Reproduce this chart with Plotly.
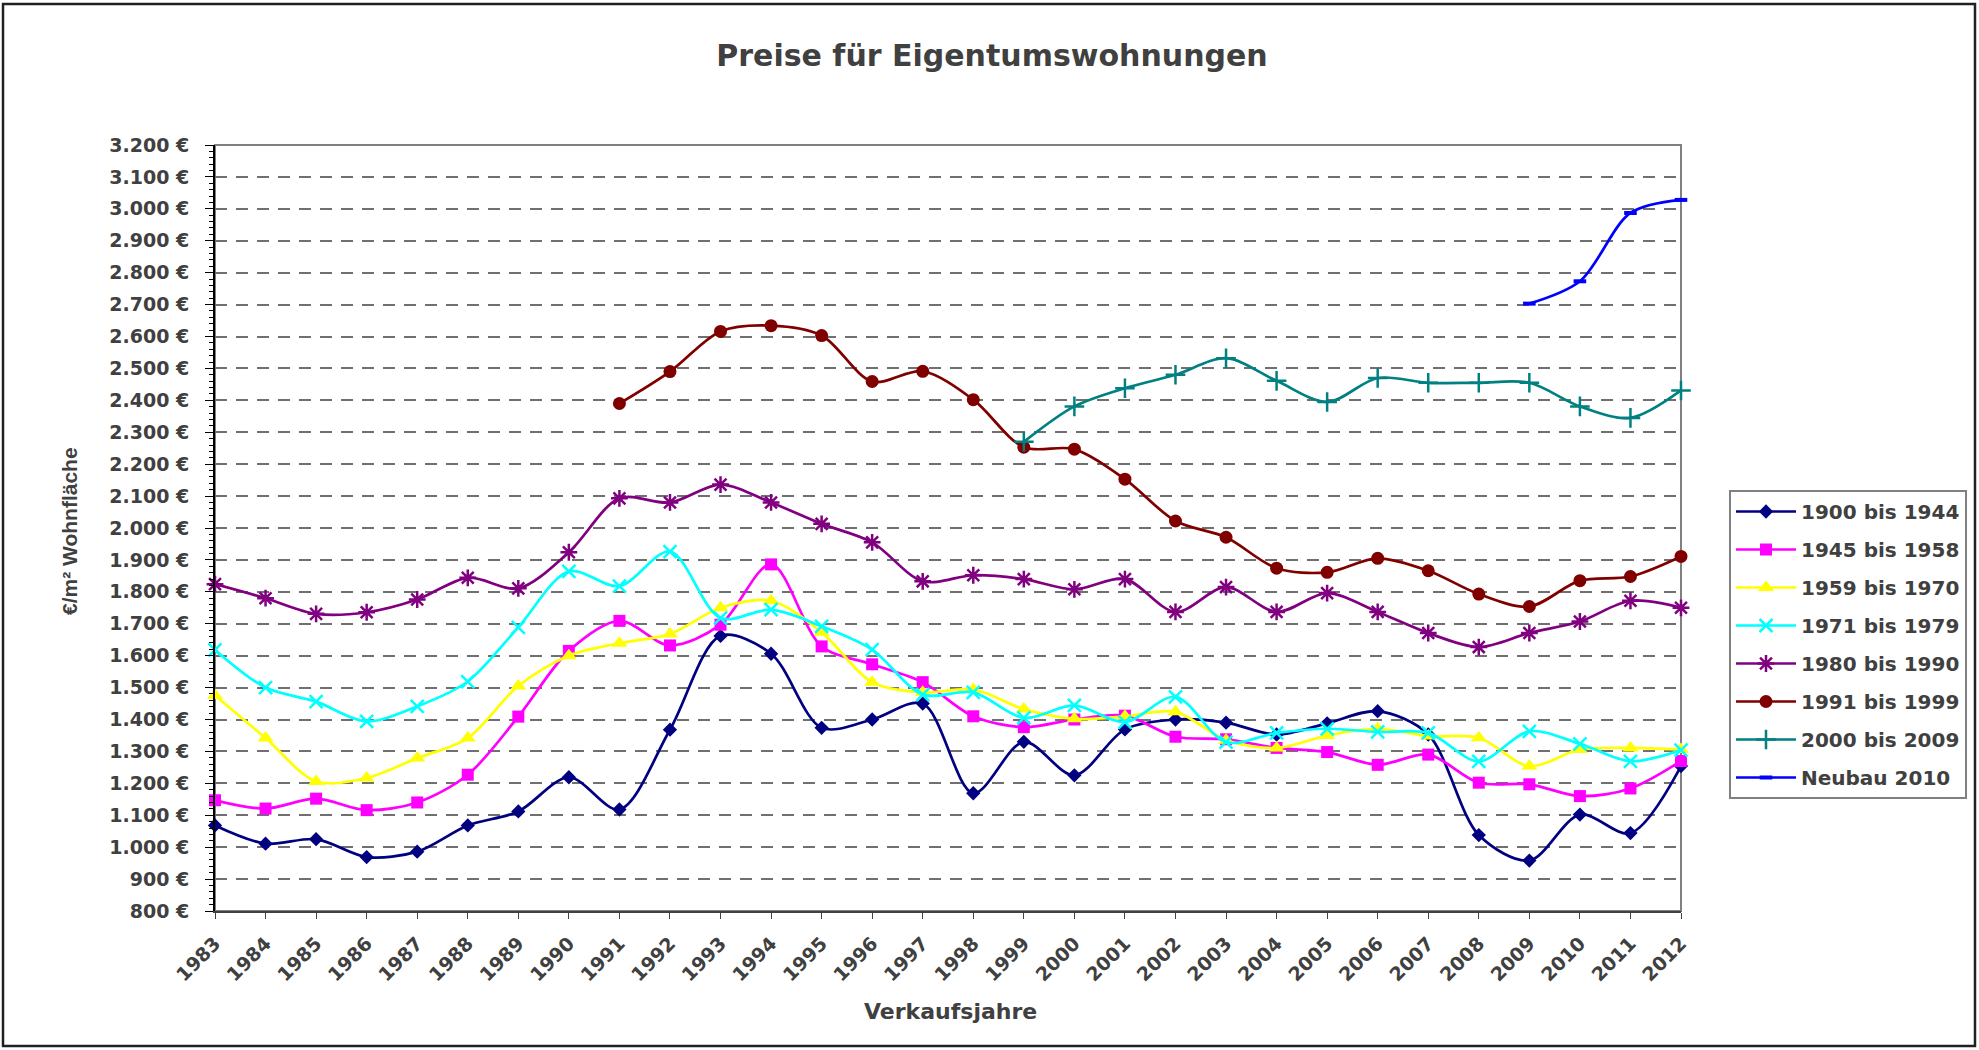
import plotly.graph_objects as go

# ---------------- data ----------------
years = list(range(1983, 2013))

s_1900_1944 = [1068, 1011, 1025, 969, 986, 1068, 1112, 1219, 1118, 1368,
               1662, 1606, 1374, 1400, 1450, 1169, 1330, 1225, 1369, 1400,
               1390, 1353, 1388, 1426, 1353, 1038, 958, 1102, 1044, 1254]
s_1945_1958 = [1147, 1121, 1152, 1116, 1140, 1227, 1409, 1615, 1709, 1632,
               1697, 1886, 1629, 1573, 1517, 1410, 1376, 1400, 1412, 1346,
               1338, 1311, 1298, 1258, 1290, 1202, 1197, 1160, 1184, 1270]
s_1959_1970 = [1475, 1342, 1206, 1217, 1279, 1342, 1505, 1600, 1639, 1668,
               1750, 1772, 1673, 1517, 1485, 1494, 1433, 1402, 1410, 1424,
               1335, 1311, 1350, 1371, 1348, 1343, 1254, 1306, 1311, 1306]
s_1971_1979 = [1618, 1500, 1456, 1394, 1441, 1519, 1689, 1864, 1818, 1926,
               1718, 1744, 1692, 1619, 1478, 1485, 1405, 1444, 1392, 1471,
               1329, 1358, 1371, 1361, 1358, 1269, 1363, 1324, 1269, 1304]
s_1980_1990 = [1824, 1780, 1731, 1736, 1776, 1844, 1811, 1924, 2093, 2080,
               2136, 2080, 2013, 1955, 1833, 1852, 1840, 1808, 1840, 1737,
               1815, 1737, 1796, 1737, 1671, 1627, 1671, 1707, 1772, 1750]
s_1991_1999 = [None, None, None, None, None, None, None, None, 2390, 2490,
               2616, 2634, 2603, 2459, 2491, 2402, 2253, 2247, 2153, 2022,
               1971, 1874, 1861, 1905, 1866, 1793, 1754, 1835, 1848, 1911]
s_2000_2009 = [None] * 16 + [2270, 2381, 2438, 2480,
               2532, 2461, 2395, 2470, 2455, 2455, 2455, 2381, 2345, 2431]
s_neubau_2010 = [None] * 26 + [2703, 2773, 2987, 3028]

series_names = ["1900 bis 1944", "1945 bis 1958", "1959 bis 1970", "1971 bis 1979",
                "1980 bis 1990", "1991 bis 1999", "2000 bis 2009", "Neubau 2010"]
series_values = [s_1900_1944, s_1945_1958, s_1959_1970, s_1971_1979,
                 s_1980_1990, s_1991_1999, s_2000_2009, s_neubau_2010]

title_text = "Preise für Eigentumswohnungen"
x_title = "Verkaufsjahre"
y_title = "€/m² Wohnfläche"

# ---------------- styles ----------------
styles = [
    dict(color="#000080", symbol="diamond", size=11, lw=0),
    dict(color="#FF00FF", symbol="square", size=12, lw=0),
    dict(color="#FFFF00", symbol="triangle-up", size=14, lw=0),
    dict(color="#00FFFF", symbol="x-thin", size=13, lw=2.5),
    dict(color="#800080", symbol="asterisk", size=14, lw=2.5),
    dict(color="#800000", symbol="circle", size=13, lw=0),
    dict(color="#008080", symbol="cross-thin", size=14, lw=2.5),
    dict(color="#0000FF", symbol="line-ew", size=9, lw=4),
]

W, H = 1979, 1050
L, R, T, B = 215, 1681, 145, 911   # plot area in pixels
pw, ph = R - L, B - T

def px_x(px):
    return (px - L) / pw

def px_y(py):
    return (B - py) / ph

TXT = "#404040"
BOLD = "DejaVu Sans"

fig = go.Figure()
for i, (name, vals, st) in enumerate(zip(series_names, series_values, styles)):
    fig.add_trace(go.Scatter(
        x=years, y=vals, name=name, mode="lines+markers",
        line=dict(color=st["color"], width=2.7, shape="spline", smoothing=0.9),
        marker=dict(symbol=st["symbol"], size=st["size"], color=st["color"],
                    line=dict(color=st["color"], width=st["lw"])),
        cliponaxis=False, connectgaps=False, legendgroup=f"g{i}",
    ))

fig.update_layout(
    width=W, height=H,
    margin=dict(l=L, r=W - R, t=T, b=H - B, pad=0),
    paper_bgcolor="white", plot_bgcolor="white",
    separators=",.",
    title=dict(text=title_text, x=992 / W, y=1 - 55 / H, xanchor="center", yanchor="middle",
               font=dict(family=BOLD, size=30, color=TXT, weight="bold")),
    showlegend=True,
    legend=dict(x=px_x(1729), y=px_y(490), xanchor="left", yanchor="top",
                bordercolor="#808080", borderwidth=2, bgcolor="white",
                font=dict(family=BOLD, size=20, color=TXT, weight="bold"),
                itemwidth=60, tracegroupgap=9),
    xaxis=dict(range=[1983, 2012], tickmode="linear", tick0=1983, dtick=1,
               tickangle=-45, ticks="outside", ticklen=6, tickcolor="#404040",
               ticklabelstandoff=6,
               showline=True, linecolor="#404040", linewidth=2, showgrid=False,
               zeroline=False,
               tickfont=dict(family=BOLD, size=19, color=TXT, weight="bold")),
    yaxis=dict(range=[800, 3200], tickmode="linear", tick0=800, dtick=100,
               tickformat=",d", ticksuffix=" €",
               ticks="outside", ticklen=8, tickcolor="black",
               ticklabelstandoff=12,
               showline=True, linecolor="black", linewidth=2,
               showgrid=True, gridcolor="#707070", gridwidth=1.5, griddash="12px,9px",
               zeroline=False,
               minor=dict(dtick=20, ticks="outside", ticklen=4, tickcolor="black", showgrid=False),
               tickfont=dict(family=BOLD, size=19, color=TXT, weight="bold")),
    annotations=[
        dict(text=y_title, xref="paper", yref="paper", x=px_x(69), y=px_y(531),
             textangle=-90, showarrow=False, xanchor="center", yanchor="middle",
             font=dict(family="Liberation Sans", size=21, color=TXT, weight="bold")),
        dict(text=x_title, xref="paper", yref="paper", x=px_x(950), y=px_y(1011),
             showarrow=False, xanchor="center", yanchor="middle",
             font=dict(family=BOLD, size=22, color=TXT, weight="bold")),
    ],
    shapes=[
        # plot area frame (top/right in gray)
        dict(type="rect", xref="paper", yref="paper", x0=0, x1=1, y0=0, y1=1,
             line=dict(color="#808080", width=2), layer="between"),
        # outer chart border
        dict(type="rect", xref="paper", yref="paper",
             x0=px_x(3), x1=px_x(1975), y0=px_y(1046), y1=px_y(4),
             line=dict(color="#202020", width=2.5), layer="below"),
    ],
)

fig.write_html("out.html", post_script="document.body.style.margin='0';",
               config={"displayModeBar": False})
